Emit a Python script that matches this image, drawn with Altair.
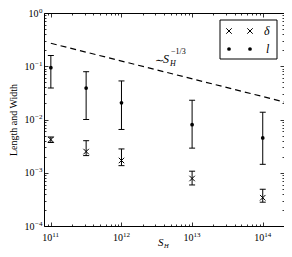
import altair as alt
import pandas as pd

# ---- data ----
sh = [1e11, 3.16e11, 1e12, 1e13, 1e14]
l_val = [0.094, 0.039, 0.0206, 0.008, 0.0045]
l_hi = [0.159, 0.079, 0.053, 0.023, 0.0137]
l_lo = [0.039, 0.010, 0.0065, 0.0029, 0.00144]
d_val = [0.0042, 0.0025, 0.0017, 0.00078, 0.00034]
d_hi = [0.0047, 0.0040, 0.0028, 0.00107, 0.00049]
d_lo = [0.0037, 0.0021, 0.00136, 0.00059, 0.00028]
dash_x = [1e11, 2e14]
dash_y = [0.27, 0.0214]

x_major = [1e11, 1e12, 1e13, 1e14]
x_minor = [8e10, 9e10] + [k * 10 ** e for e in (11, 12, 13) for k in range(2, 10)] + [2e14]
y_major = [1e-4, 1e-3, 1e-2, 1e-1, 1]
y_minor = [k * 10 ** e for e in (-4, -3, -2, -1) for k in range(2, 10)]

W, H = 240, 213
FONT = "Liberation Serif"

df_l = pd.DataFrame({"x": sh, "y": l_val, "lo": l_lo, "hi": l_hi})
df_d = pd.DataFrame({"x": sh, "y": d_val, "lo": d_lo, "hi": d_hi})
df_all = pd.concat([df_l, df_d], ignore_index=True)
df_dash = pd.DataFrame({"x": dash_x, "y": dash_y})
one = pd.DataFrame({"a": [0]})

xs = alt.Scale(type="log", domain=[8e10, 2e14], nice=False)
ys = alt.Scale(type="log", domain=[1e-4, 1], nice=False)

exp_expr = "replace(toString(round(log(datum.value)/LN10)), '-', '−')"


def tick_axis(orient, vals, size, offset):
    return alt.Axis(orient=orient, values=vals, tickSize=size, labels=False, domain=False,
                    grid=False, title=None, offset=offset, tickColor="black", tickWidth=0.8)


# base "10" labels
x_lab = alt.Axis(orient="bottom", values=x_major, ticks=False, domain=False, grid=False,
                 labelExpr="'10'", labelFont=FONT, labelFontSize=10, labelColor="black",
                 labelAlign="right", labelOffset=1, labelPadding=6, title=None)
y_lab = alt.Axis(orient="left", values=y_major, ticks=False, domain=False, grid=False,
                 labelExpr="'10'", labelFont=FONT, labelFontSize=10, labelColor="black",
                 labelAlign="right", labelBaseline="middle",
                 labelPadding={"condition": {"test": "datum.value == 1", "value": 6}, "value": 10},
                 title="Length and Width", titleFont=FONT, titleFontSize=10,
                 titleFontWeight="normal", titleColor="black", titlePadding=6)
# exponent labels
x_exp = alt.Axis(orient="bottom", values=x_major, ticks=False, domain=False, grid=False,
                 labelExpr=exp_expr, labelFont=FONT, labelFontSize=7, labelColor="black",
                 labelAlign="left", labelOffset=1, labelPadding=4, title=None)
y_exp = alt.Axis(orient="left", values=y_major, ticks=False, domain=False, grid=False,
                 labelExpr=exp_expr, labelFont=FONT, labelFontSize=7, labelColor="black",
                 labelAlign="right", labelBaseline="middle", labelOffset=-3, labelPadding=2,
                 title=None)

dash = alt.Chart(df_dash).mark_line(strokeDash=[6, 4], color="black", strokeWidth=1.2).encode(
    x=alt.X("x:Q", scale=xs, axis=x_lab),
    y=alt.Y("y:Q", scale=ys, axis=y_lab),
)

rules_l = alt.Chart(df_l).mark_rule(color="black", strokeWidth=1).encode(
    x=alt.X("x:Q", scale=xs, axis=tick_axis("top", x_major, 4, -H)),
    y=alt.Y("lo:Q", scale=ys, axis=tick_axis("right", y_major, 4, -W)),
    y2="hi:Q",
)
rules_d = alt.Chart(df_d).mark_rule(color="black", strokeWidth=1).encode(
    x=alt.X("x:Q", scale=xs, axis=tick_axis("bottom", x_major, 4, -H)),
    y=alt.Y("lo:Q", scale=ys, axis=tick_axis("left", y_major, 4, -W)),
    y2="hi:Q",
)
caps = alt.Chart(df_all).transform_fold(["lo", "hi"], as_=["k", "v"]).mark_tick(
    orient="horizontal", size=6, thickness=1, color="black", opacity=1).encode(
    x=alt.X("x:Q", scale=xs, axis=tick_axis("top", x_minor, 2, -H)),
    y=alt.Y("v:Q", scale=ys, axis=tick_axis("right", y_minor, 2, -W)),
)
pts_l = alt.Chart(df_l).mark_point(shape="circle", filled=True, size=14, color="black", opacity=1).encode(
    x=alt.X("x:Q", scale=xs, axis=tick_axis("bottom", x_minor, 2, -H)),
    y=alt.Y("y:Q", scale=ys, axis=tick_axis("left", y_minor, 2, -W)),
)
XSHAPE = "M-1,-1L1,1M-1,1L1,-1"
pts_d = alt.Chart(df_d).mark_point(shape=XSHAPE, filled=False, size=30, color="black",
                                   strokeWidth=1, opacity=1).encode(
    x=alt.X("x:Q", scale=xs, axis=x_exp),
    y=alt.Y("y:Q", scale=ys, axis=y_exp),
)

# legend
box = alt.Chart(one).mark_rect(fill="white", stroke="black", strokeWidth=1).encode(
    x=alt.value(176), x2=alt.value(233), y=alt.value(7), y2=alt.value(46))
leg = [box]
for px in (185, 206):
    leg.append(alt.Chart(one).mark_point(shape=XSHAPE, filled=False, size=30, color="black",
                                         strokeWidth=1, opacity=1).encode(x=alt.value(px), y=alt.value(18)))
    leg.append(alt.Chart(one).mark_point(shape="circle", filled=True, size=14, color="black",
                                         opacity=1).encode(x=alt.value(px), y=alt.value(36)))


def txt(s, x, y, size=11, style="italic", align="left"):
    return alt.Chart(one).mark_text(text=s, font=FONT, fontSize=size, fontStyle=style, align=align,
                                    baseline="middle", color="black").encode(x=alt.value(x), y=alt.value(y))


leg.append(txt("δ", 220, 18, 12))
leg.append(txt("l", 222, 36, 12))

# annotation ~ S_H^{-1/3}
ann = [txt("∼", 111, 48, 11, "normal"), txt("S", 119, 46, 12), txt("H", 126, 51, 8),
       txt("−1/3", 127, 39, 8, "normal")]
# x title S_H
xt = [txt("S", 114, 230, 11), txt("H", 120, 232.5, 6.5)]

chart = alt.layer(dash, rules_l, rules_d, caps, pts_l, pts_d, *leg, *ann, *xt).resolve_axis(
    x="independent", y="independent").properties(
    width=W, height=H,
    autosize=alt.AutoSizeParams(type="none"),
    padding={"left": 36, "top": 5, "right": 0, "bottom": 23},
).configure_view(stroke="black", strokeWidth=1)

chart.save("out.html", embed_options={"renderer": "svg", "actions": False})
